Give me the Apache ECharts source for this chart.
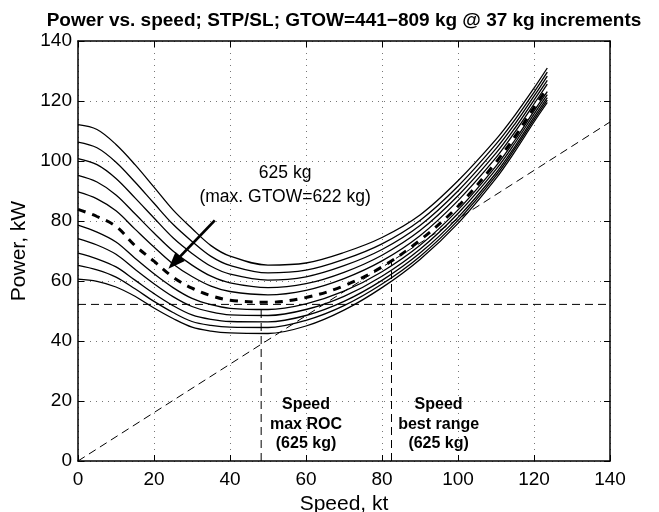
<!DOCTYPE html>
<html><head><meta charset="utf-8">
<script src="https://cdn.jsdelivr.net/npm/echarts@6/dist/echarts.min.js"></script>
<style>html,body{margin:0;padding:0;background:#fff}#c{width:659px;height:512px}</style>
</head><body><div id="c"></div>
<script>
// Speed grid, kt
const speeds = [0,5,10,15,20,25,30,35,40,50,60,70,80,90,100,110,115,120,123.5];
// Power, kW, one array per gross take-off weight
const w441 = [60.6,59.9,58.0,54.9,51.0,47.5,44.6,43.3,42.7,42.5,45.0,50.3,57.8,67.2,79.2,94.2,103.2,113.0,119.5];
const w478 = [65.2,63.7,61.3,57.4,53.2,49.5,46.5,45.2,44.6,44.5,46.9,51.8,59.0,68.2,80.2,95.1,104.1,113.8,120.3];
const w515 = [69.3,67.4,64.7,60.3,55.8,51.8,48.7,47.2,46.5,46.4,48.5,53.2,60.2,69.3,81.2,96.0,104.9,114.6,121.1];
const w552 = [74.1,72.0,68.9,63.9,59.1,54.8,51.5,49.7,48.7,48.5,50.5,54.9,61.6,70.6,82.5,97.2,106.0,115.6,122.1];
const w589 = [78.6,76.3,73.0,67.6,62.4,57.8,54.2,52.1,50.9,50.5,52.4,56.6,63.1,71.9,83.7,98.3,107.0,116.6,123.1];
const w625 = [83.9,81.5,78.2,71.8,66.6,61.3,57.6,55.1,53.6,52.9,54.5,58.4,64.7,73.6,84.9,99.6,108.2,117.8,124.3];
const w663 = [89.7,87.4,83.4,77.3,71.3,65.7,61.5,58.3,56.5,55.4,56.9,60.8,66.7,75.1,86.8,101.1,109.7,119.0,125.6];
const w700 = [95.2,93.0,88.7,82.4,76.0,70.0,65.3,61.6,59.4,57.8,59.1,62.9,68.6,76.8,88.4,102.6,111.0,120.3,126.9];
const w737 = [100.8,98.8,94.2,87.7,81.0,74.4,69.2,64.9,62.3,60.3,61.4,65.1,70.5,78.5,90.0,104.1,112.4,121.6,128.3];
const w774 = [106.3,104.4,99.6,93.0,85.9,78.9,73.2,68.2,65.2,62.7,63.6,67.2,72.4,80.2,91.6,105.6,113.8,122.9,129.6];
const w811 = [112.1,110.5,105.5,98.8,91.3,83.7,77.5,71.8,68.3,65.3,66.0,69.5,74.5,82.0,93.4,107.2,115.3,124.3,131.0];
// Reference lines
const tangentSpeeds = [0, 140];
const tangentPowers = [0, 113];
const minPower = 52.2;          // kW, min power (625 kg)
const speedMaxROC = 48.2;       // kt
const speedBestRange = 82.5;    // kt
const powerBestRange = 66.6;    // kW
const axisMin = 0, axisMax = 140, axisStep = 20;
// Annotation texts
const titleText = 'Power vs. speed; STP/SL; GTOW=441\u2212809 kg @ 37 kg increments';
const noteText = '625 kg\n(max. GTOW=622 kg)';
const rocText = 'Speed\nmax ROC\n(625 kg)';
const rangeText = 'Speed\nbest range\n(625 kg)';

const solidCurves = [w441, w478, w515, w552, w589, w663, w700, w737, w774, w811];
const FONT = 'Liberation Sans, Arial, Helvetica, sans-serif';

const pairs = arr => speeds.map((s, i) => [s, arr[i]]);
const series = [];
const thinDash = {color:'#000', width:1, type:[8,5]};
series.push({type:'line', data: tangentSpeeds.map((s,i)=>[s, tangentPowers[i]]), showSymbol:false, lineStyle:thinDash, silent:true, z:1});
series.push({type:'line', data: [[axisMin, minPower],[axisMax, minPower]], showSymbol:false, lineStyle:thinDash, silent:true, z:1});
series.push({type:'line', data: [[speedMaxROC, 0],[speedMaxROC, minPower]], showSymbol:false, lineStyle:thinDash, silent:true, z:1});
series.push({type:'line', data: [[speedBestRange, 0],[speedBestRange, powerBestRange]], showSymbol:false, lineStyle:thinDash, silent:true, z:1});
solidCurves.forEach(c => series.push({type:'line', data: pairs(c), smooth:0.35, showSymbol:false, silent:true,
  lineStyle:{color:'#000', width:1.3}, z:2}));
series.push({type:'line', data: pairs(w625), smooth:0.35, showSymbol:false, silent:true,
  lineStyle:{color:'#000', width:3, type:[8,7]}, z:3});

const axisCommon = {type:'value', min:axisMin, max:axisMax, interval:axisStep,
  axisLine:{show:true, onZero:false, lineStyle:{color:'#000', width:1.5}},
  axisTick:{show:true, inside:true, length:6, lineStyle:{color:'#000', width:1}}};

const chart = echarts.init(document.getElementById('c'), null, {renderer:'canvas'});
chart.setOption({
  animation:false,
  backgroundColor:'#fff',
  grid:{left:78, right:49, top:41, bottom:51, containLabel:false, outerBoundsMode:'none'},
  xAxis:[
    Object.assign({}, axisCommon, {position:'bottom', name:'Speed, kt', nameLocation:'middle', nameGap:26,
      nameTextStyle:{fontFamily:FONT, fontSize:21, color:'#000', verticalAlign:'top'},
      axisLabel:{show:true, margin:9, fontFamily:FONT, fontSize:19, color:'#000'},
      splitLine:{show:true, lineStyle:{color:'#777', width:1, type:[1,5]}}}),
    Object.assign({}, axisCommon, {position:'top', axisLabel:{show:false}, splitLine:{show:false}})
  ],
  yAxis:[
    Object.assign({}, axisCommon, {position:'left', name:'Power, kW', nameLocation:'middle', nameGap:42, nameRotate:90,
      nameTextStyle:{fontFamily:FONT, fontSize:21, color:'#000'},
      axisLabel:{show:true, margin:6, fontFamily:FONT, fontSize:19, color:'#000'},
      splitLine:{show:true, lineStyle:{color:'#777', width:1, type:[1,5]}}}),
    Object.assign({}, axisCommon, {position:'right', axisLabel:{show:false}, splitLine:{show:false}})
  ],
  series: series
});

// Annotations placed through the chart's own coordinate conversion
const px = (v, p) => chart.convertToPixel({gridIndex:0}, [v, p]);
const txt = (v, p, text, font, lh) => { const q = px(v, p); return {type:'text', x:q[0], y:q[1], z:100,
  style:{text:text, font:font, lineHeight:lh, textAlign:'center', textVerticalAlign:'middle', fill:'#000'}}; };
const a0 = px(36, 80.2), a1 = px(23.8, 64.1);
const dx = a1[0]-a0[0], dy = a1[1]-a0[1], L = Math.hypot(dx, dy), ux = dx/L, uy = dy/L;
const headLen = 17, headHalf = 6.5;
const base = [a1[0]-ux*headLen, a1[1]-uy*headLen];
const plotCenter = px((axisMin+axisMax)/2, axisMax);
chart.setOption({graphic:[
  {type:'text', x:plotCenter[0], y:11, z:100, style:{text:titleText, font:'bold 19px ' + FONT, textAlign:'center', fill:'#000'}},
  txt(54.5, 91.9, noteText, '17.5px ' + FONT, 23.4),
  txt(60, 12.2, rocText, 'bold 16px ' + FONT, 19.5),
  txt(94.9, 12.2, rangeText, 'bold 16px ' + FONT, 19.5),
  {type:'line', z:100, shape:{x1:a0[0], y1:a0[1], x2:base[0]+ux*2, y2:base[1]+uy*2}, style:{stroke:'#000', lineWidth:2.8}},
  {type:'polygon', z:100, shape:{points:[a1, [base[0]-uy*headHalf, base[1]+ux*headHalf], [base[0]+uy*headHalf, base[1]-ux*headHalf]]}, style:{fill:'#000'}}
]});
</script></body></html>
